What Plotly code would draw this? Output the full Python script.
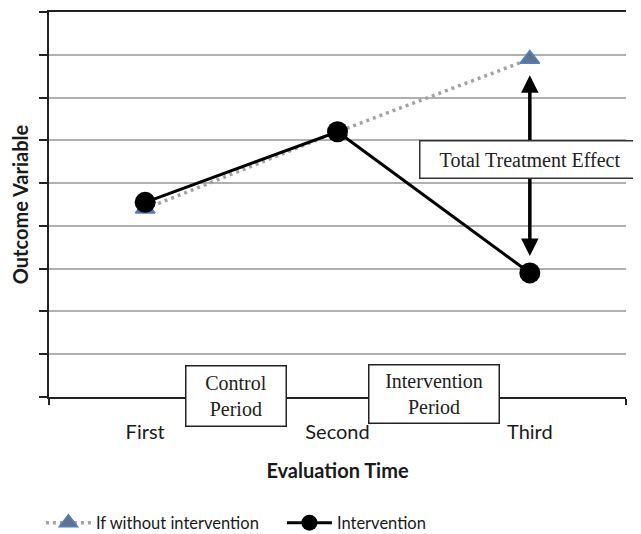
import plotly.graph_objects as go

categories = ["First", "Second", "Third"]
without_intervention = [4.4, 6.2, 7.9]
intervention = [4.55, 6.2, 2.9]
y_ticks = list(range(0, 10))

fig = go.Figure()
fig.add_trace(go.Scatter(
    x=categories, y=without_intervention, mode="lines+markers",
    name="If without intervention",
    line=dict(color="#a3a3a3", width=3.5, dash="3px,4px"),
    marker=dict(symbol="triangle-up", size=17, color="#5d7391",
                line=dict(color="#4f81bd", width=1.5)),
    cliponaxis=False,
))
fig.add_trace(go.Scatter(
    x=categories, y=intervention, mode="lines+markers",
    name="Intervention",
    line=dict(color="black", width=3),
    marker=dict(symbol="circle", size=21, color="black"),
    cliponaxis=False,
))

# double-headed arrow between the two third-evaluation values
fig.add_annotation(
    x=categories[2], y=without_intervention[2] - 0.38,
    ax=categories[2], ay=intervention[2] + 0.36,
    xref="x", yref="y", axref="x", ayref="y",
    text="", showarrow=True, arrowhead=2, arrowside="end+start",
    arrowsize=1.0, arrowwidth=3.5, arrowcolor="black",
)

box_font = dict(family="Liberation Serif", size=20, color="#222222")
fig.add_annotation(
    x=2, y=5.56, xref="x", yref="y", text="Total Treatment Effect",
    showarrow=False, font=box_font, bgcolor="white",
    bordercolor="#333333", borderwidth=1.5, borderpad=0, width=219, height=36,
)
fig.add_annotation(
    x=0.47, y=0.03, xref="x", yref="y", text="Control<br>Period",
    showarrow=False, font=box_font, bgcolor="white",
    bordercolor="#222222", borderwidth=1.5, borderpad=0, width=99, height=59,
)
fig.add_annotation(
    x=1.504, y=0.08, xref="x", yref="y", text="Intervention<br>Period",
    showarrow=False, font=box_font, bgcolor="white",
    bordercolor="#222222", borderwidth=1.5, borderpad=0, width=129, height=57,
)

fig.update_layout(
    width=633, height=526,
    margin=dict(l=41, r=15, t=4, b=137, autoexpand=False),
    paper_bgcolor="white", plot_bgcolor="white",
    font=dict(family="Lato", color="#1a1a1a"),
    showlegend=True,
    legend=dict(orientation="h", xref="container", yref="container",
                x=0.052, xanchor="left", y=0.021, yanchor="middle",
                font=dict(family="Lato", size=16.5, color="#1a1a1a"),
                entrywidth=181, entrywidthmode="pixels", itemwidth=45),
    xaxis=dict(
        type="category", categoryorder="array", categoryarray=categories,
        range=[-0.5, 2.5], showgrid=False, zeroline=False, automargin=False,
        showline=True, linecolor="#222222", linewidth=1.5, mirror=True,
        ticks="outside", tickson="boundaries", ticklen=6, tickcolor="#222222", tickwidth=1.5,
        tickfont=dict(family="Lato", size=20, color="#1a1a1a"),
        ticklabelstandoff=16,
        title=dict(text="<b>Evaluation Time</b>", font=dict(family="Lato", size=20, color="#1a1a1a"),
                   standoff=22),
    ),
    yaxis=dict(
        range=[0, 9], tickvals=y_ticks, showticklabels=False, automargin=False,
        showgrid=True, gridcolor="#b0b0b0", gridwidth=1.5, zeroline=False,
        showline=True, linecolor="#222222", linewidth=1.5,
        ticks="outside", ticklen=8, tickcolor="#222222", tickwidth=1.5,
        title=dict(text="<b>Outcome Variable</b>", font=dict(family="Lato", size=20, color="#1a1a1a"),
                   standoff=12),
    ),
)

fig.write_html("out.html")
